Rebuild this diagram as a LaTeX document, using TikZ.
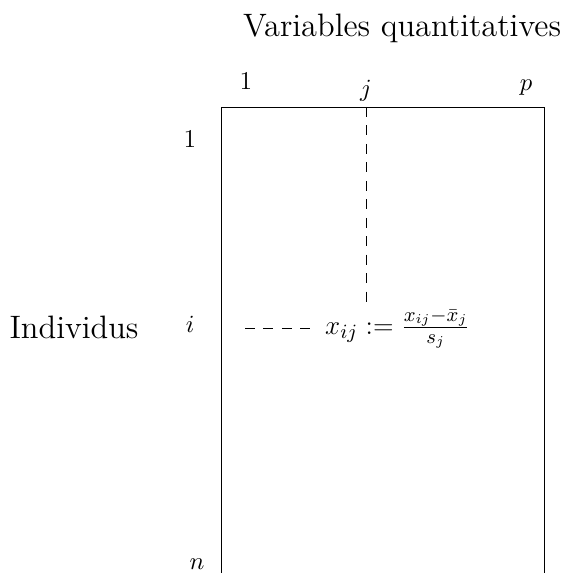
\documentclass[tikz,border=0pt]{standalone}
\usetikzlibrary{positioning}

\begin{document}
\begin{tikzpicture}[x=0.444pt, y=-0.444pt, title/.style={font=\Large}, lbl/.style={anchor=base, inner sep=0pt, font=\fontsize{11.4pt}{14pt}\selectfont}, guide/.style={dash pattern=on 4.4pt off 3.8pt}]
        \useasboundingbox (0,0) rectangle (560,573);
        % Table frame
        \coordinate (tl) at (221,107);
        \coordinate (tr) at (544,107);
        \coordinate (bl) at (221,573);
        \coordinate (br) at (544,573);
        \draw (bl) -- (tl) -- (tr) -- (br);

        % Titles
        \node[title] (vars) at (402,28) {Variables quantitatives};
        \node[title] (indiv) at (74,327) {Individus};

        % Column and row labels
        \node[lbl] (c1) at (246,90) {1};
        \node[lbl] (cj) at (366,97) {$j$};
        \node[lbl] (cp) at (526,91) {$p$};
        \node[lbl] (r1) at (190,148) {1};
        \node[lbl] (ri) at (190,332) {$i$};
        \node[lbl] (rn) at (197,569) {$n$};

        % Entry
        \coordinate (jtop) at (366,107);
        \coordinate (istart) at (245,328);
        \node[anchor=base west, inner sep=3pt, font=\fontsize{12.2pt}{15pt}\selectfont] (xij) at (318,334) {$x_{ij} := \frac{x_{ij}-\bar{x}_j}{s_j}$};

        % Connectors
        \draw [guide] (jtop) -- (jtop |- xij.north);
        \draw [guide, shorten >=3pt] (istart) -- (istart -| xij.west);
    \end{tikzpicture}
\end{document}
